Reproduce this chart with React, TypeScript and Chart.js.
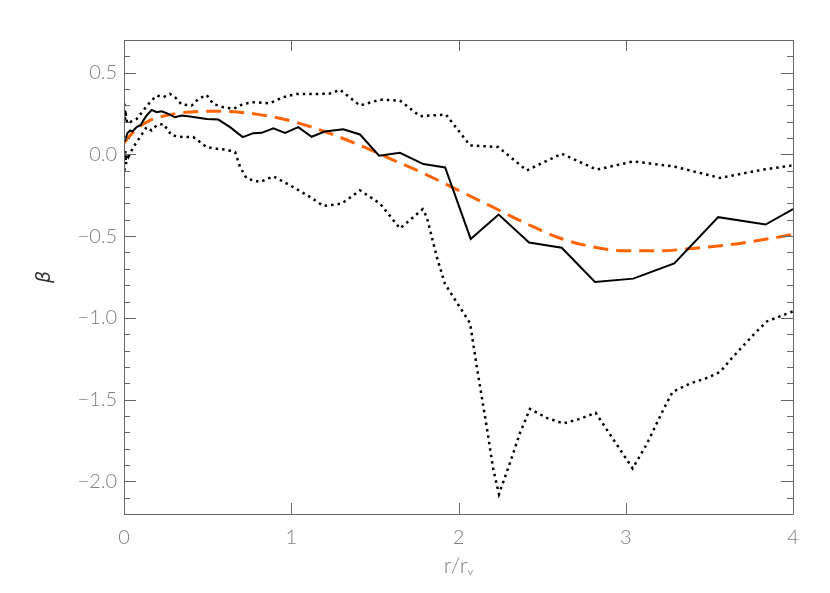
import React, { useEffect, useRef } from "react";
import { Chart, registerables } from "chart.js";

Chart.register(...registerables);

// r/r_v positions and beta values
const solidX = [0.005, 0.02, 0.036, 0.05, 0.076, 0.1, 0.115, 0.135, 0.165, 0.195, 0.225, 0.255, 0.305, 0.345, 0.395, 0.494, 0.564, 0.634, 0.71, 0.773, 0.823, 0.893, 0.963, 1.042, 1.122, 1.2, 1.311, 1.411, 1.525, 1.65, 1.79, 1.92, 2.073, 2.24, 2.422, 2.617, 2.816, 3.045, 3.29, 3.553, 3.836, 4.0];
const solidY = [0.08, 0.13, 0.146, 0.14, 0.167, 0.18, 0.207, 0.238, 0.272, 0.258, 0.264, 0.252, 0.227, 0.238, 0.232, 0.217, 0.213, 0.167, 0.106, 0.13, 0.132, 0.16, 0.132, 0.167, 0.108, 0.14, 0.154, 0.122, -0.008, 0.01, -0.059, -0.08, -0.517, -0.368, -0.539, -0.571, -0.78, -0.76, -0.667, -0.384, -0.429, -0.335];

const upperX = [0.003, 0.006, 0.009, 0.012, 0.02, 0.036, 0.076, 0.115, 0.155, 0.195, 0.235, 0.275, 0.305, 0.345, 0.405, 0.445, 0.494, 0.534, 0.594, 0.654, 0.713, 0.773, 0.873, 0.952, 1.032, 1.152, 1.231, 1.291, 1.411, 1.531, 1.65, 1.77, 1.925, 2.069, 2.238, 2.408, 2.617, 2.826, 3.045, 3.284, 3.564, 3.822, 4.0];
const upperY = [0.31, 0.2, 0.27, 0.228, 0.19, 0.197, 0.217, 0.268, 0.319, 0.36, 0.35, 0.37, 0.35, 0.305, 0.299, 0.34, 0.364, 0.309, 0.289, 0.279, 0.309, 0.319, 0.313, 0.35, 0.37, 0.37, 0.372, 0.395, 0.299, 0.335, 0.329, 0.234, 0.244, 0.055, 0.045, -0.098, 0.004, -0.093, -0.043, -0.073, -0.144, -0.093, -0.067];

const lowerX = [0.003, 0.008, 0.012, 0.018, 0.026, 0.056, 0.096, 0.135, 0.165, 0.195, 0.235, 0.285, 0.355, 0.414, 0.494, 0.554, 0.614, 0.664, 0.694, 0.734, 0.813, 0.893, 0.993, 1.112, 1.192, 1.302, 1.411, 1.531, 1.65, 1.786, 1.81, 1.87, 1.919, 2.069, 2.109, 2.168, 2.208, 2.242, 2.308, 2.368, 2.427, 2.527, 2.627, 2.726, 2.82, 2.926, 3.041, 3.125, 3.225, 3.28, 3.384, 3.484, 3.564, 3.643, 3.763, 3.843, 3.972, 4.0];
const lowerY = [-0.1, 0.02, -0.06, 0.0, -0.016, 0.045, 0.106, 0.167, 0.146, 0.177, 0.187, 0.116, 0.106, 0.106, 0.045, 0.035, 0.028, 0.014, -0.077, -0.148, -0.169, -0.134, -0.189, -0.26, -0.315, -0.301, -0.22, -0.301, -0.453, -0.335, -0.382, -0.626, -0.793, -1.032, -1.297, -1.663, -1.927, -2.079, -1.886, -1.703, -1.557, -1.612, -1.646, -1.618, -1.581, -1.744, -1.921, -1.774, -1.561, -1.453, -1.402, -1.368, -1.331, -1.236, -1.104, -1.022, -0.971, -0.96];

const fitX = [0, 0.05, 0.1, 0.15, 0.2, 0.3, 0.4, 0.5, 0.6, 0.7, 0.8, 0.9, 1.0, 1.2, 1.4, 1.6, 1.8, 2.0, 2.2, 2.4, 2.6, 2.8, 3.0, 3.2, 3.4, 3.6, 3.8, 4.0];
const fitY = [0.07, 0.13, 0.175, 0.205, 0.225, 0.248, 0.26, 0.264, 0.263, 0.257, 0.245, 0.228, 0.205, 0.14, 0.06, -0.03, -0.12, -0.22, -0.32, -0.42, -0.51, -0.565, -0.59, -0.59, -0.575, -0.555, -0.525, -0.49];

const xTicks = [0, 1, 2, 3, 4];
const yTicks = [-2.0, -1.5, -1.0, -0.5, 0.0, 0.5];
const yMinor = 0.1;

const pts = (xs: number[], ys: number[]) => xs.map((x, i) => ({ x, y: ys[i] }));

const framePlugin = {
  id: "idlFrame",
  afterDatasetsDraw(chart: any) {
    const { ctx, chartArea: a, scales } = chart;
    const xs = scales.x;
    const ys = scales.y;
    ctx.save();
    ctx.strokeStyle = "#666666";
    ctx.lineWidth = 1;
    ctx.beginPath();
    ctx.rect(Math.round(a.left) + 0.5, Math.round(a.top) + 0.5, Math.round(a.right - a.left), Math.round(a.bottom - a.top));
    ctx.stroke();
    ctx.beginPath();
    xTicks.forEach((v) => {
      const px = Math.round(xs.getPixelForValue(v)) + 0.5;
      ctx.moveTo(px, a.bottom);
      ctx.lineTo(px, a.bottom - 11);
      ctx.moveTo(px, a.top);
      ctx.lineTo(px, a.top + 11);
    });
    const n0 = Math.ceil(ys.min / yMinor - 1e-6);
    const n1 = Math.floor(ys.max / yMinor + 1e-6);
    for (let n = n0; n <= n1; n++) {
      const v = n * yMinor;
      const major = n % 5 === 0;
      const len = major ? 12 : 6;
      const py = Math.round(ys.getPixelForValue(v)) + 0.5;
      ctx.moveTo(a.left, py);
      ctx.lineTo(a.left + len, py);
      ctx.moveTo(a.right, py);
      ctx.lineTo(a.right - len, py);
    }
    ctx.stroke();
    ctx.restore();
  },
};

export default function App() {
  const ref = useRef<HTMLCanvasElement>(null);
  useEffect(() => {
    if (!ref.current) return;
    const tickFont = { family: "Lato, 'DejaVu Sans', sans-serif", size: 20, weight: "300" as any };
    const chart = new Chart(ref.current, {
      type: "line",
      data: {
        datasets: [
          { data: pts(upperX, upperY), borderColor: "#000", borderWidth: 2.5, borderDash: [2.5, 4], pointRadius: 0, fill: false },
          { data: pts(lowerX, lowerY), borderColor: "#000", borderWidth: 2.5, borderDash: [2.5, 4], pointRadius: 0, fill: false },
          { data: pts(solidX, solidY), borderColor: "#000", borderWidth: 2, pointRadius: 0, fill: false },
          { data: pts(fitX, fitY), borderColor: "#ff6400", borderWidth: 3, borderDash: [15, 8], pointRadius: 0, fill: false, cubicInterpolationMode: "monotone" },
        ],
      },
      options: {
        animation: false,
        responsive: false,
        layout: { padding: { left: 0, right: 37, top: 40, bottom: 0 } },
        plugins: { legend: { display: false }, tooltip: { enabled: false } },
        scales: {
          x: {
            type: "linear",
            min: 0,
            max: 4,
            afterFit: (s: any) => { s.height = 79; },
            afterBuildTicks: (s: any) => { s.ticks = xTicks.map((v) => ({ value: v })); },
            grid: { display: false, drawTicks: false },
            border: { display: false },
            ticks: { color: "#808080", font: tickFont, padding: 12, maxRotation: 0, callback: (v: any) => String(v) },
            title: { display: true, text: "r/rᵥ", color: "#808080", font: { family: "Lato, 'DejaVu Sans', sans-serif", size: 22, weight: "300" as any }, padding: { top: 0, bottom: 14 } },
          },
          y: {
            type: "linear",
            min: -2.2,
            max: 0.7,
            afterFit: (s: any) => { s.width = 124; },
            afterBuildTicks: (s: any) => { s.ticks = yTicks.map((v) => ({ value: v })); },
            grid: { display: false, drawTicks: false },
            border: { display: false },
            ticks: {
              color: "#808080",
              font: tickFont,
              padding: 7,
              callback: (v: any) => Number(v).toFixed(1).replace("-", "\u2212"),
            },
            title: { display: true, text: "β", color: "#333", font: { family: "'DejaVu Sans', sans-serif", size: 19, style: "italic" }, padding: { top: 34, bottom: 0 } },
          },
        },
      },
      plugins: [framePlugin],
    });
    return () => chart.destroy();
  }, []);
  return (
    <div style={{ position: "absolute", left: 0, top: 0, width: 830, height: 593, background: "#fff" }}>
      <canvas ref={ref} width={830} height={593} style={{ display: "block" }} />
    </div>
  );
}
